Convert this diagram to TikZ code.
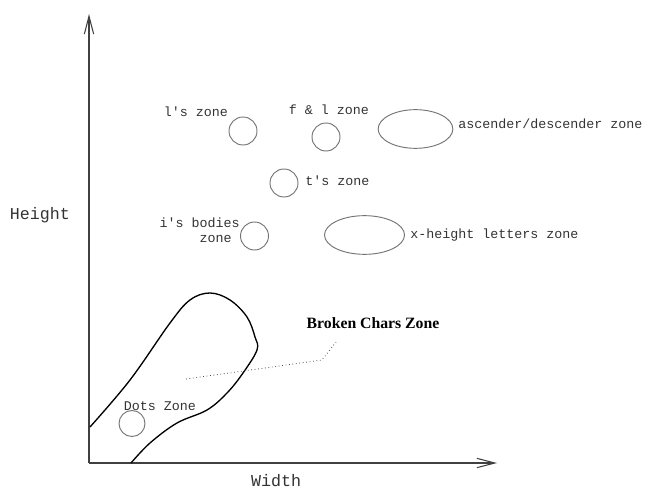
\documentclass[tikz,border=0pt]{standalone}
\usepackage{fontspec}
\newfontfamily\courfont{Liberation Mono}
\newfontfamily\timesfont{Liberation Serif}
\usetikzlibrary{arrows.meta, shapes.geometric}

\begin{document}
\begin{tikzpicture}[x=0.75pt, y=-0.75pt,
    axis/.style={draw=black!75, line width=1.1pt, -{Straight Barb[length=13.5pt, width=7pt, line width=0.8pt]}},
    zone/.style={draw=black!55, line width=0.7pt, inner sep=0pt},
    lbl/.style={font=\courfont\fontsize{10}{11.2}\selectfont, text=black!80, inner sep=0pt},
    axlbl/.style={font=\courfont\fontsize{12.5}{14}\selectfont, text=black!80, inner sep=0pt}]
  \useasboundingbox (0,0) rectangle (645,491);

  % axes
  \coordinate (origin) at (89,463);
  \coordinate (ytop) at (89,14);
  \coordinate (xend) at (497,463);
  \draw[axis] (origin) -- (ytop);
  \draw[axis] (origin) -- (xend);
  \node[axlbl] (hgt) at (40,215) {Height};
  \node[axlbl] (wdt) at (276,481) {Width};

  % zones (circles and ellipses)
  \node[zone, circle, minimum size=21pt] (lz) at (243,131) {};
  \node[lbl] (lzl) at (196,112) {l's zone};
  \node[zone, circle, minimum size=21pt] (flz) at (326,137) {};
  \node[lbl] (flzl) at (329,110) {f \& l zone};
  \node[zone, ellipse, minimum width=56pt, minimum height=29pt] (adz) at (415.5,129) {};
  \node[lbl, anchor=west] (adzl) at (458,124) {ascender/descender zone};
  \node[zone, circle, minimum size=21pt] (tz) at (284,183) {};
  \node[lbl, anchor=west] (tzl) at (305,181) {t's zone};
  \node[zone, circle, minimum size=21pt] (iz) at (254.5,236) {};
  \node[lbl, align=right, anchor=east] (izl) at (240,230) {i's bodies\\zone\phantom{ }};
  \node[zone, ellipse, minimum width=60pt, minimum height=29pt] (xz) at (364.5,235) {};
  \node[lbl, anchor=west] (xzl) at (410,235) {x-height letters zone};

  % broken chars zone
  \draw[line width=1pt, line join=round] plot[smooth, tension=0.6] coordinates {
    (90,427) (130,380) (170,323) (190,300) (210,293) (230,300) (247,317)
    (255,337) (257,350) (243,373) (227,393) (207,410) (177,423) (150,443) (131,463)};
  \node[zone, circle, minimum size=19.5pt] (dz) at (132,423.5) {};
  \node[lbl] (dzl) at (160,406) {Dots Zone};
  \node[font=\timesfont\bfseries\fontsize{11.8}{14}\selectfont, inner sep=0pt] (bcz) at (373,323) {Broken Chars Zone};
  \coordinate (bcin) at (186,379);
  \coordinate (bcmid) at (322,360);
  \coordinate (bcend) at (336,342);
  \draw[dotted, black!70, line width=0.6pt] (bcin) -- (bcmid) -- (bcend);
\end{tikzpicture}
\end{document}
